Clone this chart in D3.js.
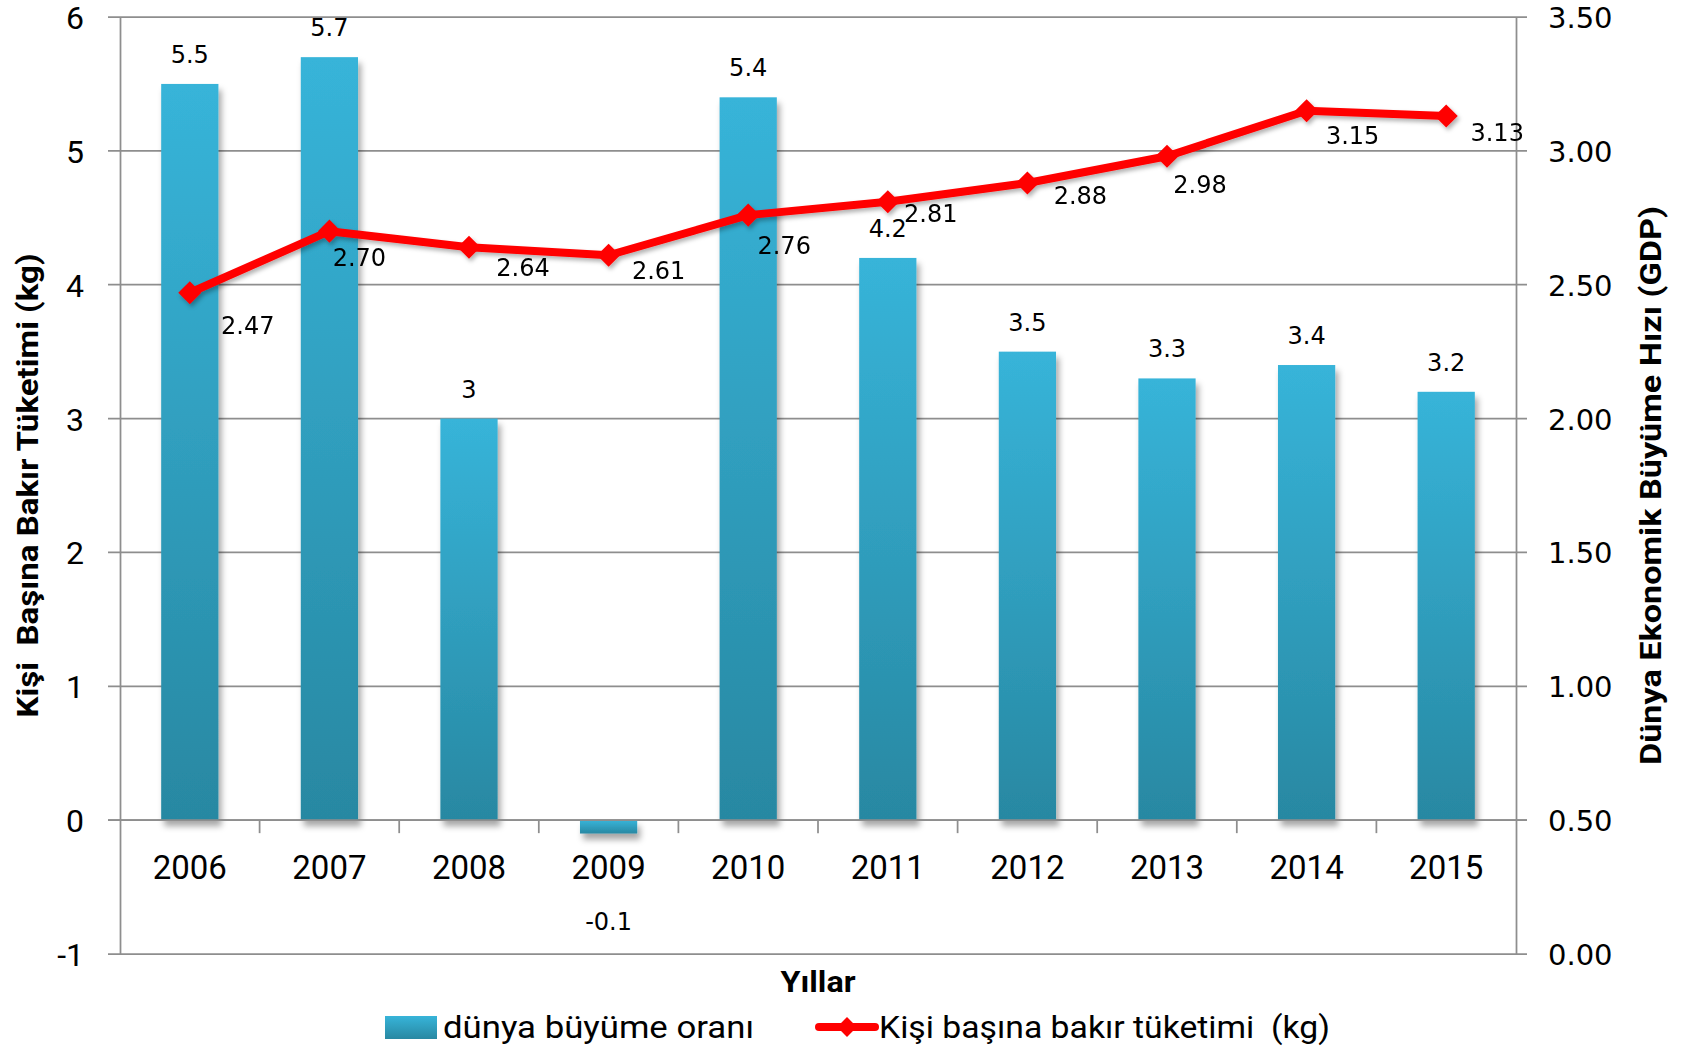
<!DOCTYPE html>
<html>
<head>
<meta charset="utf-8">
<script src="https://cdnjs.cloudflare.com/ajax/libs/d3/7.8.5/d3.min.js"></script>
<style>
  body { margin: 0; background: #fff; }
  svg { display: block; }
</style>
</head>
<body>
<div id="chart"></div>
<script>
// chart data
const years = ["2006", "2007", "2008", "2009", "2010", "2011", "2012", "2013", "2014", "2015"];
const growthRate = [5.5, 5.7, 3, -0.1, 5.4, 4.2, 3.5, 3.3, 3.4, 3.2];
const copperPerCapita = [2.47, 2.70, 2.64, 2.61, 2.76, 2.81, 2.88, 2.98, 3.15, 3.13];
const leftTicks = [-1, 0, 1, 2, 3, 4, 5, 6];
const rightTicks = [0, 0.5, 1, 1.5, 2, 2.5, 3, 3.5];

// hand placed data labels of the red line (offset from the marker, px)
const lineLabelNudge = [[58, 33], [30, 26], [54, 20], [50, 15], [36, 30], [43, 12], [53, 12], [33, 28], [46, 25], [51, 16]];

const W = 1693, H = 1050;
const margin = { top: 17, right: 177, bottom: 96, left: 120 };
const width = W - margin.left - margin.right;
const height = H - margin.top - margin.bottom;

const calibri = "Roboto, 'Open Sans', sans-serif";
const lucida = "'DejaVu Sans', sans-serif";
const gridColor = "#8e8e8e";

const svg = d3.select("#chart")
  .append("svg")
  .attr("width", W)
  .attr("height", H);

const defs = svg.append("defs");

// bar gradient, light on top, darker teal at the bottom
const grad = defs.append("linearGradient")
  .attr("id", "barGrad")
  .attr("x1", 0).attr("y1", 0).attr("x2", 0).attr("y2", 1);
grad.append("stop").attr("offset", "0%").attr("stop-color", "#37b4d9");
grad.append("stop").attr("offset", "100%").attr("stop-color", "#2888a2");

const shadow = defs.append("filter")
  .attr("id", "barShadow")
  .attr("x", "-20%").attr("y", "-10%").attr("width", "150%").attr("height", "130%");
shadow.append("feDropShadow")
  .attr("dx", 3).attr("dy", 6).attr("stdDeviation", 3)
  .attr("flood-color", "#000").attr("flood-opacity", 0.35);

const lineShadow = defs.append("filter")
  .attr("id", "lineShadow")
  .attr("x", "-10%").attr("y", "-20%").attr("width", "120%").attr("height", "160%");
lineShadow.append("feDropShadow")
  .attr("dx", 2).attr("dy", 3).attr("stdDeviation", 2)
  .attr("flood-color", "#000").attr("flood-opacity", 0.3);

const g = svg.append("g")
  .attr("transform", `translate(${margin.left},${margin.top})`);

// scales
const x = d3.scaleBand()
  .domain(years)
  .range([0, width])
  .paddingInner(0.59)
  .paddingOuter(0.295);

const xStep = d3.scaleBand()
  .domain(years)
  .range([0, width]);

const yLeft = d3.scaleLinear()
  .domain([-1, 6])
  .range([height, 0]);

const yRight = d3.scaleLinear()
  .domain([0, 3.5])
  .range([height, 0]);

// horizontal gridlines (with the small outer ticks on both sides)
g.append("g")
  .selectAll("line")
  .data(leftTicks)
  .enter()
  .append("line")
  .attr("x1", -12)
  .attr("x2", width + 11)
  .attr("y1", d => yLeft(d))
  .attr("y2", d => yLeft(d))
  .attr("stroke", gridColor)
  .attr("stroke-width", 1.75);

// left axis
const leftAxis = g.append("g")
  .call(d3.axisLeft(yLeft).tickValues(leftTicks).tickFormat(d => String(d)).tickSize(0).tickPadding(36));
leftAxis.select(".domain").attr("stroke", gridColor).attr("stroke-width", 1.75);
leftAxis.selectAll("text")
  .attr("font-family", calibri)
  .attr("font-size", 32)
  .attr("fill", "#000")
  .attr("dy", "0.36em");

// right axis
const rightAxis = g.append("g")
  .attr("transform", `translate(${width},0)`)
  .call(d3.axisRight(yRight).tickValues(rightTicks).tickFormat(d3.format(".2f")).tickSize(0).tickPadding(32));
rightAxis.select(".domain").attr("stroke", gridColor).attr("stroke-width", 1.75);
rightAxis.selectAll("text")
  .attr("font-family", lucida)
  .attr("font-size", 29)
  .attr("fill", "#000")
  .attr("dy", "0.36em");

// category tick marks on the zero line
g.append("g")
  .selectAll("line")
  .data(years.slice(1))
  .enter()
  .append("line")
  .attr("x1", d => xStep(d))
  .attr("x2", d => xStep(d))
  .attr("y1", yLeft(0))
  .attr("y2", yLeft(0) + 13)
  .attr("stroke", gridColor)
  .attr("stroke-width", 1.75);

// bars
const barData = years.map((yr, i) => ({ year: yr, value: growthRate[i] }));

g.append("g")
  .attr("filter", "url(#barShadow)")
  .selectAll("rect")
  .data(barData)
  .enter()
  .append("rect")
  .attr("x", d => x(d.year))
  .attr("y", d => yLeft(Math.max(0, d.value)))
  .attr("width", x.bandwidth())
  .attr("height", d => Math.abs(yLeft(d.value) - yLeft(0)))
  .attr("fill", "url(#barGrad)");

// zero line drawn over the bars
g.append("line")
  .attr("x1", -12)
  .attr("x2", width + 11)
  .attr("y1", yLeft(0))
  .attr("y2", yLeft(0))
  .attr("stroke", gridColor)
  .attr("stroke-width", 1.75);

// category labels
g.append("g")
  .selectAll("text")
  .data(years)
  .enter()
  .append("text")
  .attr("x", d => xStep(d) + xStep.bandwidth() / 2)
  .attr("y", yLeft(0) + 59)
  .attr("text-anchor", "middle")
  .attr("font-family", calibri)
  .attr("font-size", 33)
  .text(d => d);

// bar value labels
g.append("g")
  .selectAll("text")
  .data(barData)
  .enter()
  .append("text")
  .attr("x", d => x(d.year) + x.bandwidth() / 2)
  .attr("y", d => d.value >= 0 ? yLeft(d.value) - 21 : yLeft(d.value) + 96)
  .attr("text-anchor", "middle")
  .attr("font-family", lucida)
  .attr("font-size", 24)
  .text(d => d.value);

// line series
const lineData = years.map((yr, i) => ({ year: yr, value: copperPerCapita[i], nudge: lineLabelNudge[i] }));
const cx = d => x(d.year) + x.bandwidth() / 2;

const lineG = g.append("g").attr("filter", "url(#lineShadow)");

lineG.append("path")
  .datum(lineData)
  .attr("fill", "none")
  .attr("stroke", "#ff0000")
  .attr("stroke-width", 8)
  .attr("stroke-linejoin", "round")
  .attr("d", d3.line().x(cx).y(d => yRight(d.value)));

lineG.selectAll("path.marker")
  .data(lineData)
  .enter()
  .append("path")
  .attr("class", "marker")
  .attr("d", d3.symbol().type(d3.symbolDiamond2).size(340))
  .attr("transform", d => `translate(${cx(d)},${yRight(d.value)})`)
  .attr("fill", "#ff0000");

// line value labels
g.append("g")
  .selectAll("text")
  .data(lineData)
  .enter()
  .append("text")
  .attr("x", d => cx(d) + d.nudge[0])
  .attr("y", d => yRight(d.value) + d.nudge[1])
  .attr("dy", "0.36em")
  .attr("text-anchor", "middle")
  .attr("font-family", lucida)
  .attr("font-size", 24)
  .text(d => d3.format(".2f")(d.value));

// axis titles
svg.append("text")
  .attr("transform", `translate(38,${margin.top + height / 2}) rotate(-90)`)
  .attr("text-anchor", "middle")
  .attr("font-family", calibri)
  .attr("font-weight", "bold")
  .attr("font-size", 29)
  .attr("textLength", 464)
  .attr("lengthAdjust", "spacingAndGlyphs")
  .style("white-space", "pre")
  .text("Kişi  Başına Bakır Tüketimi (kg)");

svg.append("text")
  .attr("transform", `translate(1661,${margin.top + height / 2}) rotate(-90)`)
  .attr("text-anchor", "middle")
  .attr("font-family", calibri)
  .attr("font-weight", "bold")
  .attr("font-size", 29)
  .attr("textLength", 559)
  .attr("lengthAdjust", "spacingAndGlyphs")
  .text("Dünya Ekonomik Büyüme Hızı (GDP)");

svg.append("text")
  .attr("x", margin.left + width / 2)
  .attr("y", 992)
  .attr("text-anchor", "middle")
  .attr("font-family", calibri)
  .attr("font-weight", "bold")
  .attr("font-size", 30)
  .attr("textLength", 75)
  .attr("lengthAdjust", "spacingAndGlyphs")
  .text("Yıllar");

// legend
const legend = svg.append("g");

legend.append("rect")
  .attr("x", 385)
  .attr("y", 1016)
  .attr("width", 52)
  .attr("height", 23)
  .attr("fill", "url(#barGrad)");

legend.append("text")
  .attr("x", 443)
  .attr("y", 1038)
  .attr("font-family", calibri)
  .attr("font-size", 31)
  .attr("textLength", 311)
  .attr("lengthAdjust", "spacingAndGlyphs")
  .text("dünya büyüme oranı");

legend.append("line")
  .attr("x1", 819)
  .attr("x2", 875)
  .attr("y1", 1027)
  .attr("y2", 1027)
  .attr("stroke", "#ff0000")
  .attr("stroke-width", 8)
  .attr("stroke-linecap", "round");

legend.append("path")
  .attr("d", d3.symbol().type(d3.symbolDiamond2).size(250))
  .attr("transform", "translate(847,1027)")
  .attr("fill", "#ff0000");

legend.append("text")
  .attr("x", 879)
  .attr("y", 1038)
  .attr("font-family", calibri)
  .attr("font-size", 31)
  .attr("textLength", 451)
  .attr("lengthAdjust", "spacingAndGlyphs")
  .style("white-space", "pre")
  .text("Kişi başına bakır tüketimi  (kg)");
</script>
</body>
</html>
